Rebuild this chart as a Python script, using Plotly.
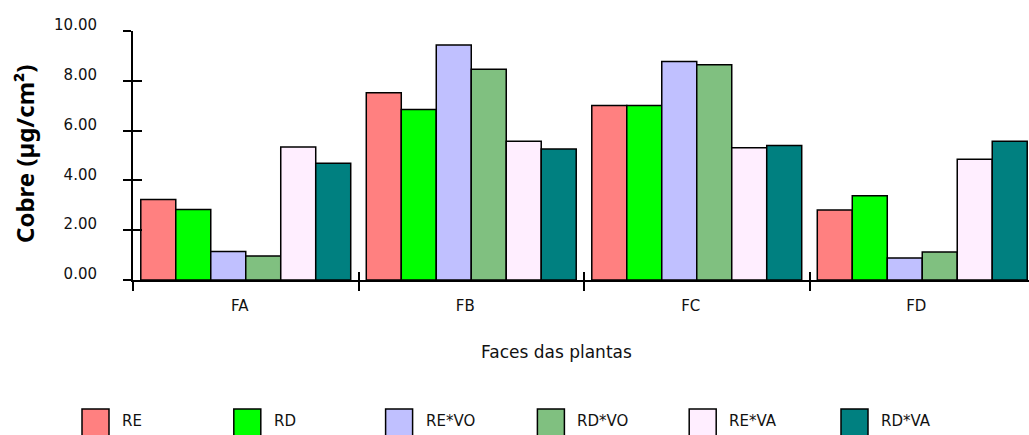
import plotly.graph_objects as go

# Copper deposit per plant face, by treatment
faces = ["FA", "FB", "FC", "FD"]
series_names = ["RE", "RD", "RE*VO", "RD*VO", "RE*VA", "RD*VA"]
re_vals = [3.23, 7.52, 7.01, 2.81]
rd_vals = [2.83, 6.85, 7.01, 3.38]
re_vo_vals = [1.14, 9.44, 8.78, 0.88]
rd_vo_vals = [0.96, 8.46, 8.64, 1.12]
re_va_vals = [5.34, 5.57, 5.31, 4.85]
rd_va_vals = [4.69, 5.26, 5.40, 5.57]
series_values = [re_vals, rd_vals, re_vo_vals, rd_vo_vals, re_va_vals, rd_va_vals]
series_colors = ["#FF8080", "#00FF00", "#C0C0FF", "#80C080", "#FFEEFF", "#008080"]

y_tick_vals = [0, 2, 4, 6, 8, 10]
y_tick_text = ["0.00", "2.00", "4.00", "6.00", "8.00", "10.00"]

W, H = 1029, 435
ML, MR, MT, MB = 133, 0, 31, 155
PW, PH = W - ML - MR, H - MT - MB


def fx(px):
    return (px - ML) / PW


def fy(py):
    return (H - MB - py) / PH


TICK_FONT = dict(family="DejaVu Sans, Verdana, sans-serif", size=15, color="#111")

fig = go.Figure()
for name, vals, col in zip(series_names, series_values, series_colors):
    fig.add_trace(go.Bar(
        x=faces, y=vals, name=name, showlegend=False,
        marker=dict(color=col, line=dict(color="black", width=1.5)),
    ))

# helper trace for the overlaid axes that carry the inner half of each tick
fig.add_trace(go.Scatter(x=faces, y=[0] * len(faces), xaxis="x2", yaxis="y2",
                         mode="none", showlegend=False, hoverinfo="skip"))

x_range = [-0.5, -0.5 + PW / 225.5]

fig.update_layout(
    width=W, height=H,
    margin=dict(l=ML, r=MR, t=MT, b=MB, pad=0),
    paper_bgcolor="white", plot_bgcolor="white",
    barmode="group", bargap=0.069, bargroupgap=0,
    xaxis=dict(
        type="category", range=x_range, tickson="boundaries",
        ticks="outside", ticklen=9, tickwidth=2, tickcolor="black",
        showline=True, linecolor="black", linewidth=2,
        showgrid=False, zeroline=False,
        tickfont=TICK_FONT, ticklabelshift=-6, ticklabelstandoff=11,
    ),
    yaxis=dict(
        range=[0, 10], tickvals=y_tick_vals, ticktext=y_tick_text,
        ticks="outside", ticklen=8, tickwidth=2, tickcolor="black",
        showline=True, linecolor="black", linewidth=2,
        showgrid=False, zeroline=False,
        tickfont=TICK_FONT, ticklabelshift=-6, ticklabelstandoff=23,
    ),
    xaxis2=dict(
        type="category", overlaying="x", anchor="y", side="bottom",
        range=x_range, tickson="boundaries",
        ticks="inside", ticklen=8, tickwidth=2, tickcolor="black",
        showticklabels=False, showline=False, showgrid=False, zeroline=False,
    ),
    yaxis2=dict(
        overlaying="y", anchor="x", side="left", range=[0, 10],
        tickvals=y_tick_vals, ticks="inside", ticklen=9, tickwidth=2,
        tickcolor="black", showticklabels=False, showline=False,
        showgrid=False, zeroline=False,
    ),
)

annotations = [
    dict(text='<span style="font-stretch:75%"><b>Cobre (µg/cm²)</b></span>',
         xref="paper", yref="paper",
         x=fx(24), y=fy(154), textangle=-90, showarrow=False,
         xanchor="center", yanchor="middle",
         font=dict(family="Noto Sans, Roboto, sans-serif", size=24, color="black")),
    dict(text="Faces das plantas", xref="paper", yref="paper",
         x=fx(556), y=fy(352), showarrow=False,
         xanchor="center", yanchor="middle",
         font=dict(family="DejaVu Sans, Verdana, sans-serif", size=17, color="#111")),
]

# legend row drawn as swatches and labels
shapes = []
for i, (name, col) in enumerate(zip(series_names, series_colors)):
    left = 82 + i * 151.8
    shapes.append(dict(type="rect", xref="paper", yref="paper",
                       x0=fx(left), x1=fx(left + 27), y0=fy(437), y1=fy(409),
                       fillcolor=col, line=dict(color="black", width=1.5)))
    annotations.append(dict(text=name, xref="paper", yref="paper",
                            x=fx(left + 38), y=fy(421), showarrow=False,
                            xanchor="left", yanchor="middle",
                            font=dict(family="DejaVu Sans, Verdana, sans-serif",
                                      size=15, color="#111")))

fig.update_layout(annotations=annotations, shapes=shapes)

fig.write_html("out.html")
